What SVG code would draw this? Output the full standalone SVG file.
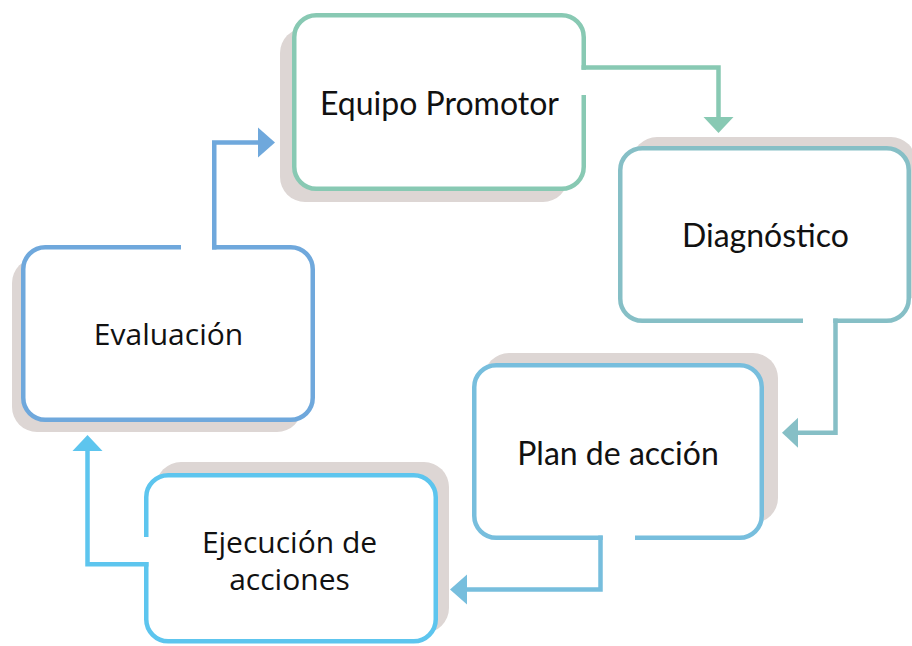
<svg xmlns="http://www.w3.org/2000/svg" width="912" height="646" viewBox="0 0 912 646">
<defs>
<style>
.shadow{fill:#ddd6d4;}
.box{fill:#ffffff;stroke-width:4.5;stroke-linejoin:round;}
.conn{fill:none;stroke-width:4.5;stroke-linejoin:miter;}
.label{font-family:Lato,"Noto Sans","Liberation Sans",sans-serif;font-size:32px;fill:#111111;text-anchor:middle;}
.label2{font-family:"Open Sans","Noto Sans","Liberation Sans",sans-serif;font-size:30px;fill:#111111;text-anchor:middle;}
.c1{stroke:#88c9b3;} .f1{fill:#88c9b3;}
.c2{stroke:#86bfc6;} .f2{fill:#86bfc6;}
.c3{stroke:#77bedd;} .f3{fill:#77bedd;}
.c4{stroke:#5dc5ee;} .f4{fill:#5dc5ee;}
.c5{stroke:#6fa8dc;} .f5{fill:#6fa8dc;}
</style>
</defs>
<rect width="912" height="646" fill="#ffffff"/>
<g id="shadows">
<rect class="shadow" x="280" y="28" width="288" height="174" rx="25"/>
<rect class="shadow" x="632" y="137" width="284" height="172" rx="25"/>
<rect class="shadow" x="484" y="353" width="294" height="170" rx="25"/>
<rect class="shadow" x="156" y="462" width="293" height="171" rx="25"/>
<rect class="shadow" x="12" y="258" width="290" height="174" rx="25"/>
</g>
<g id="equipo">
<path class="box c1" d="M583.75 95 V166.75 A22 22 0 0 1 561.75 188.75 H316.25 A22 22 0 0 1 294.25 166.75 V37.25 A22 22 0 0 1 316.25 15.25 H561.75 A22 22 0 0 1 583.75 37.25 V69.75"/>
<text class="label" x="439.5" y="115">Equipo Promotor</text>
</g>
<g id="diagnostico">
<path class="box c2" d="M803 320.75 H642.25 A22 22 0 0 1 620.25 298.75 V170.25 A22 22 0 0 1 642.25 148.25 H886.75 A22 22 0 0 1 908.75 170.25 V298.75 A22 22 0 0 1 886.75 320.75 H833.25"/>
<text class="label" x="765.5" y="247">Diagnóstico</text>
</g>
<g id="plan">
<path class="box c3" d="M602.75 537.75 H496.25 A22 22 0 0 1 474.25 515.75 V387.25 A22 22 0 0 1 496.25 365.25 H739.75 A22 22 0 0 1 761.75 387.25 V515.75 A22 22 0 0 1 739.75 537.75 H635"/>
<text class="label" x="618" y="465">Plan de acción</text>
</g>
<g id="ejecucion">
<path class="box c4" d="M146.25 537 V497.25 A22 22 0 0 1 168.25 475.25 H413.75 A22 22 0 0 1 435.75 497.25 V619.25 A22 22 0 0 1 413.75 641.25 H168.25 A22 22 0 0 1 146.25 619.25 V562"/>
<text class="label2" x="289.5" y="553">Ejecución de</text>
<text class="label2" x="289.5" y="590">acciones</text>
</g>
<g id="evaluacion">
<path class="box c5" d="M212 247.25 H290.75 A22 22 0 0 1 312.75 269.25 V397.75 A22 22 0 0 1 290.75 419.75 H45.25 A22 22 0 0 1 23.25 397.75 V269.25 A22 22 0 0 1 45.25 247.25 H181"/>
<text class="label2" x="168.5" y="345">Evaluación</text>
</g>
<g id="connectors">
<path class="conn c1" d="M581.5 67.5 H718.5 V117"/>
<polygon class="f1" points="703.5,117 733.5,117 718.5,133"/>
<path class="conn c2" d="M835.5 318.5 V432.75 H798"/>
<polygon class="f2" points="798,417.75 798,447.75 782,432.75"/>
<path class="conn c3" d="M600.5 535.5 V589.5 H467"/>
<polygon class="f3" points="467,574.5 467,604.5 450,589.5"/>
<path class="conn c4" d="M148.5 564.25 H87.5 V451"/>
<polygon class="f4" points="72.5,451 102.5,451 87.5,435"/>
<path class="conn c5" d="M214.25 249.5 V142.5 H258"/>
<polygon class="f5" points="258,127.5 258,157.5 275,142.5"/>
</g>
</svg>
